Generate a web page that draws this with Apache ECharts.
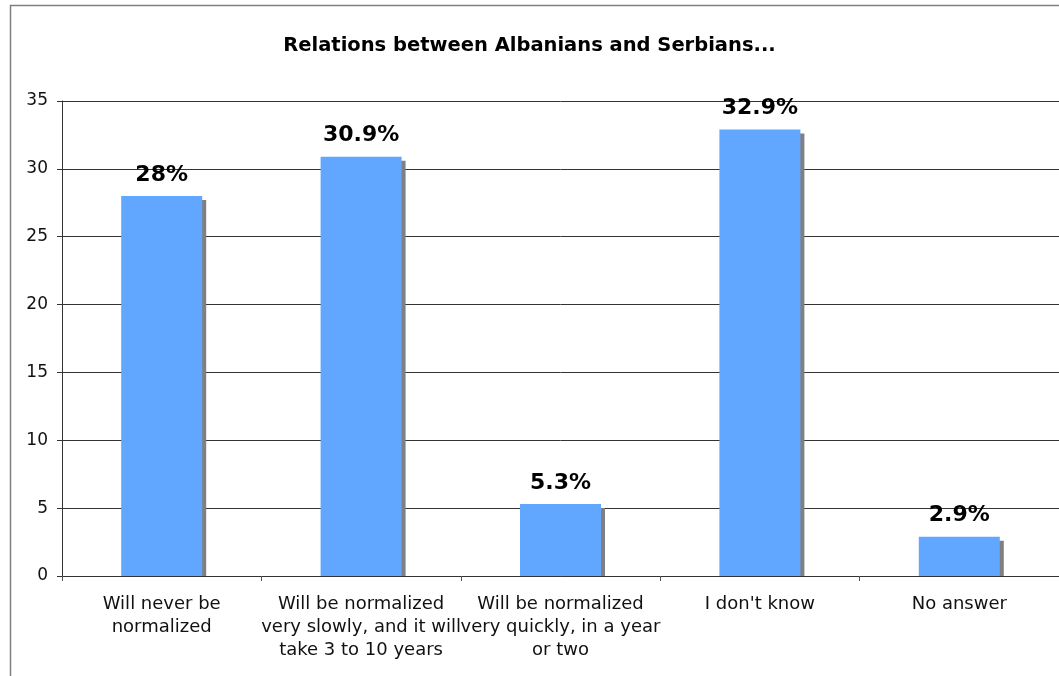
<!DOCTYPE html>
<html>
<head>
<meta charset="utf-8">
<script src="https://cdn.jsdelivr.net/npm/echarts@6/dist/echarts.min.js"></script>
<style>html,body{margin:0;padding:0;background:#fff;}#c{width:1059px;height:676px;}</style>
</head>
<body>
<div id="c"></div>
<script>
const titleText = 'Relations between Albanians and Serbians...';
const categories = [
  'Will never be\nnormalized',
  'Will be normalized\nvery slowly, and it will\ntake 3 to 10 years',
  'Will be normalized\nvery quickly, in a year\nor two',
  "I don't know",
  'No answer'
];
const values = [28, 30.9, 5.3, 32.9, 2.9];
const yTicks = [0, 5, 10, 15, 20, 25, 30, 35];

const BAR_W = 81;
const chart = echarts.init(document.getElementById('c'), null, {renderer: 'canvas'});
chart.setOption({
  animation: false,
  backgroundColor: '#fff',
  textStyle: {fontFamily: 'DejaVu Sans'},
  graphic: [{
    type: 'rect', left: 8, top: 3, z: -10,
    shape: {width: 1200, height: 800},
    style: {fill: 'none', stroke: '#7f7f7f', lineWidth: 1.5}
  }],
  title: {
    text: titleText, left: 'center', top: 31,
    textStyle: {fontFamily: 'DejaVu Sans', fontWeight: 'bold', fontSize: 19.5, color: '#000'}
  },
  grid: {left: 62, right: -1, top: 101, bottom: 100, containLabel: false},
  xAxis: {
    type: 'category', data: categories,
    axisLine: {lineStyle: {color: '#333', width: 1}},
    axisTick: {show: true, alignWithLabel: false, length: 5, lineStyle: {color: '#555'}},
    axisLabel: {interval: 0, fontSize: 18, color: '#111', lineHeight: 23, margin: 17}
  },
  yAxis: {
    type: 'value', min: yTicks[0], max: yTicks[yTicks.length - 1], interval: 5,
    axisLine: {show: true, lineStyle: {color: '#333'}},
    axisTick: {show: true, length: 5, lineStyle: {color: '#333'}},
    axisLabel: {fontSize: 17, color: '#111', margin: 14},
    splitLine: {lineStyle: {color: '#333', width: 1}}
  },
  series: [
    {
      type: 'custom', z: 1,
      data: values.map((v, i) => [i, v]),
      renderItem: function (params, api) {
        const top = api.coord([api.value(0), api.value(1)]);
        const base = api.coord([api.value(0), 0]);
        return {
          type: 'rect',
          shape: {x: top[0] - BAR_W / 2 + 4, y: top[1] + 4, width: BAR_W, height: base[1] - top[1] - 4},
          style: {fill: '#808080'}
        };
      }
    },
    {
      type: 'bar', z: 2, data: values, barWidth: BAR_W,
      itemStyle: {color: '#61A6FF'},
      label: {
        show: true, position: 'top', distance: 10,
        formatter: p => p.value + '%',
        fontFamily: 'DejaVu Sans', fontWeight: 'bold', fontSize: 22, color: '#000'
      }
    }
  ]
});
</script>
</body>
</html>
